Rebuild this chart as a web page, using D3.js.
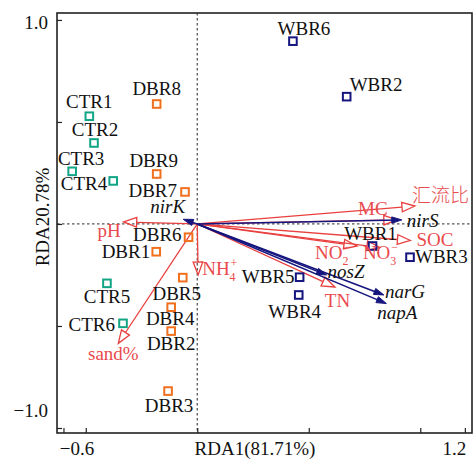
<!DOCTYPE html>
<html>
<head>
<meta charset="utf-8">
<script src="https://cdn.jsdelivr.net/npm/d3@7"></script>
<style>
  html, body { margin: 0; padding: 0; background: #fff; }
  svg { display: block; }
  text { font-family: "Liberation Serif", "DejaVu Serif", serif; }
</style>
</head>
<body>
<svg id="chart" width="474" height="459"></svg>
<script>
// ---------------- data ----------------
const siteNames = ["CTR1","CTR2","CTR3","CTR4","CTR5","CTR6",
                   "DBR1","DBR2","DBR3","DBR4","DBR5","DBR6","DBR7","DBR8","DBR9",
                   "WBR1","WBR2","WBR3","WBR4","WBR5","WBR6"];
const siteGroups = ["CTR","CTR","CTR","CTR","CTR","CTR",
                    "DBR","DBR","DBR","DBR","DBR","DBR","DBR","DBR","DBR",
                    "WBR","WBR","WBR","WBR","WBR","WBR"];
const siteX = [-0.484,-0.463,-0.561,-0.377,-0.405,-0.333,
               -0.184,-0.117,-0.131,-0.117,-0.065,-0.039,-0.055,-0.182,-0.182,
               0.786,0.670,0.954,0.455,0.459,0.429];
const siteY = [0.528,0.397,0.258,0.211,-0.291,-0.487,
               -0.136,-0.525,-0.819,-0.408,-0.263,-0.065,0.157,0.588,0.245,
               -0.108,0.624,-0.163,-0.348,-0.261,0.896];

const envNames = ["pH","NH4+","sand%","汇流比","MC","SOC","NO2-","NO3-","TN"];
const envX = [-0.330, 0.004, -0.354, 0.976, 0.895, 0.956, 0.716, 0.819, 0.617];
const envY = [0.010, -0.250, -0.585, 0.088, 0.020, -0.081, -0.108, -0.115, -0.309];

const geneNames = ["nirK","nirS","nosZ","narG","napA"];
const geneX = [-0.063, 0.917, 0.580, 0.837, 0.848];
const geneY = [0.023, 0.020, -0.250, -0.348, -0.390];

const xTicks = [-0.6, -0.5, 0, 0.5, 1.0, 1.2];
const xTickLabels = {"-0.6": "\u22120.6", "1.2": "1.2"};
const yTicks = [-1.0, -0.5, 0, 0.5, 1.0];
const yTickLabels = {"1": "1.0", "-1": "\u22121.0"};
const xTitle = "RDA1(81.71%)";
const yTitle = "RDA20.78%";

// ---------------- layout / style ----------------
const W = 474, H = 459;
const frame = {left: 57, right: 472, top: 13, bottom: 433};
const groupColor = {CTR: "#12a585", DBR: "#f0701e", WBR: "#15157f"};
const envColor = "#e8403f";
const envText = "#ea4a4d";
const geneColor = "#15157f";
const FS = 19;

const x = d3.scaleLinear().domain([-0.629, 1.232]).range([frame.left, frame.right]);
const y = d3.scaleLinear().domain([-1.0245, 1.034]).range([frame.bottom, frame.top]);

const svg = d3.select("#chart");

// label offsets (pixels): [dx, dy, anchor]
const siteLab = {
  CTR1:[0,-8,"middle"], CTR2:[1,-7,"middle"], CTR3:[9,-6,"middle"], CTR4:[-6,9,"end"],
  CTR5:[0,20,"middle"], CTR6:[-8,8,"end"],
  DBR1:[-6,6,"end"], DBR2:[0,19,"middle"], DBR3:[1,21,"middle"], DBR4:[-1,18,"middle"],
  DBR5:[-6,22,"middle"], DBR6:[-7,4,"end"], DBR7:[-8,5,"end"], DBR8:[0,-9,"middle"],
  DBR9:[-3,-7,"middle"],
  WBR1:[-2,-6,"middle"], WBR2:[3,-6,"start"], WBR3:[5,6,"start"], WBR4:[-4,23,"middle"],
  WBR5:[-5,6,"end"], WBR6:[11,-6,"middle"]
};
const geneLab = {
  nirK:[2,-6,"end"], nirS:[5,7,"start"], nosZ:[1,3,"start"], narG:[1,3,"start"], napA:[-9,15,"start"]
};
const envLab = {
  "pH":[-3,15,"end"], "NH4+":[4,0,"start"], "sand%":[-5,17,"middle"], "汇流比":[-3,-4,"start"],
  "MC":[-24,-5,"middle"], "SOC":[6,6,"start"], "NO2-":[-42,13,"start"], "NO3-":[-17,12,"start"],
  "TN":[-10,20,"start"]
};

// ---------------- reference lines ----------------
svg.append("line")
  .attr("x1", x(0)).attr("x2", x(0)).attr("y1", frame.top).attr("y2", frame.bottom)
  .attr("stroke", "#555").attr("stroke-width", 1.3).attr("stroke-dasharray", "2.5,2.5");
svg.append("line")
  .attr("x1", frame.left).attr("x2", frame.right).attr("y1", y(0)).attr("y2", y(0))
  .attr("stroke", "#555").attr("stroke-width", 1.3).attr("stroke-dasharray", "2.5,2.5");

// ---------------- axes ----------------
const xAxis = d3.axisBottom(x).tickValues(xTicks).tickSizeInner(-5).tickSizeOuter(0)
  .tickFormat(d => xTickLabels[String(d)] || "");
const gx = svg.append("g").attr("transform", `translate(0,${frame.bottom})`).call(xAxis);
gx.select(".domain").remove();
gx.selectAll(".tick line").attr("stroke", "#222").attr("stroke-width", 1.2);
gx.selectAll(".tick text")
  .attr("font-size", FS).attr("fill", "#111").attr("y", 0).attr("dy", 0)
  .attr("transform", d => d < 0 ? "translate(13,22)" : "translate(-11,22)")
  .style("font-family", "Liberation Serif");

const yAxis = d3.axisLeft(y).tickValues(yTicks).tickSizeInner(-5).tickSizeOuter(0)
  .tickFormat(d => yTickLabels[String(d)] || "");
const gy = svg.append("g").attr("transform", `translate(${frame.left},0)`).call(yAxis);
gy.select(".domain").remove();
gy.selectAll(".tick line").attr("stroke", "#222").attr("stroke-width", 1.2);
gy.selectAll(".tick text")
  .attr("font-size", FS).attr("fill", "#111").attr("x", -9).attr("dy", "0.33em")
  .attr("transform", d => d < 0 ? "translate(0,-18)" : "translate(0,2)")
  .style("font-family", "Liberation Serif");

// frame
svg.append("rect")
  .attr("x", frame.left).attr("y", frame.top)
  .attr("width", frame.right - frame.left).attr("height", frame.bottom - frame.top)
  .attr("fill", "none").attr("stroke", "#222").attr("stroke-width", 1.6);

// axis titles
svg.append("text").attr("x", 255).attr("y", 455).attr("text-anchor", "middle")
  .attr("font-size", FS).attr("fill", "#111").text(xTitle);
svg.append("text").attr("transform", "translate(49,217) rotate(-90)")
  .attr("text-anchor", "middle").attr("font-size", FS).attr("fill", "#111").text(yTitle);

// ---------------- arrows ----------------
function arrow(g, x1, y1, x2, y2, color, open) {
  const dx = x2 - x1, dy = y2 - y1;
  const L = Math.hypot(dx, dy), ux = dx / L, uy = dy / L;
  const hl = open ? 13 : 10, hw = open ? 4.8 : 3.2;
  const bx = x2 - ux * hl, by = y2 - uy * hl;
  g.append("line").attr("x1", x1).attr("y1", y1)
    .attr("x2", open ? bx : x2 - ux * 3).attr("y2", open ? by : y2 - uy * 3)
    .attr("stroke", color).attr("stroke-width", open ? 1.3 : 1.6);
  const px = -uy, py = ux;
  g.append("path")
    .attr("d", `M${x2},${y2}L${bx + px * hw},${by + py * hw}L${bx - px * hw},${by - py * hw}Z`)
    .attr("fill", open ? "none" : color).attr("stroke", color)
    .attr("stroke-width", open ? 1.3 : 1).attr("stroke-linejoin", "miter");
}

const gEnv = svg.append("g");
envNames.forEach((n, i) => arrow(gEnv, x(0), y(0), x(envX[i]), y(envY[i]), envColor, true));
const gGene = svg.append("g");
geneNames.forEach((n, i) => arrow(gGene, x(0), y(0), x(geneX[i]), y(geneY[i]), geneColor, false));

// ---------------- sites ----------------
const gSites = svg.append("g");
siteNames.forEach((n, i) => {
  const cx = x(siteX[i]), cy = y(siteY[i]);
  gSites.append("rect").attr("x", cx - 3.8).attr("y", cy - 3.8)
    .attr("width", 7.6).attr("height", 7.6)
    .attr("fill", "none").attr("stroke", groupColor[siteGroups[i]]).attr("stroke-width", 2);
  const o = siteLab[n];
  gSites.append("text").attr("x", cx + o[0]).attr("y", cy + o[1])
    .attr("text-anchor", o[2]).attr("font-size", FS).attr("fill", "#111").text(n);
});

// gene labels
geneNames.forEach((n, i) => {
  const o = geneLab[n];
  svg.append("text").attr("x", x(geneX[i]) + o[0]).attr("y", y(geneY[i]) + o[1])
    .attr("text-anchor", o[2]).attr("font-size", FS).attr("font-style", "italic")
    .attr("fill", "#111").text(n);
});

// env labels
envNames.forEach((n, i) => {
  const o = envLab[n];
  const tx = x(envX[i]) + o[0], ty = y(envY[i]) + o[1];
  const m = n.match(/^(NH|NO)(\d)([+-])$/);
  if (m) {
    const t = svg.append("text").attr("x", tx).attr("y", ty).attr("text-anchor", "start")
      .attr("font-size", FS).attr("fill", envText).text(m[1]);
    const w = t.node().getComputedTextLength();
    svg.append("text").attr("x", tx + w).attr("y", ty + 6)
      .attr("font-size", 12).attr("fill", envText).text(m[2]);
    svg.append("text").attr("x", tx + w + 1).attr("y", ty - 8)
      .attr("font-size", 12).attr("fill", envText).text(m[3] === "-" ? "\u2212" : "+");
  } else {
    const isCJK = /[\u4e00-\u9fff]/.test(n);
    svg.append("text").attr("x", tx).attr("y", ty).attr("text-anchor", o[2])
      .attr("font-size", FS).attr("fill", envText)
      .style("font-family", isCJK ? "'Noto Sans CJK SC', sans-serif" : "Liberation Serif")
      .style("font-weight", isCJK ? 300 : null)
      .text(n);
  }
});
</script>
</body>
</html>
